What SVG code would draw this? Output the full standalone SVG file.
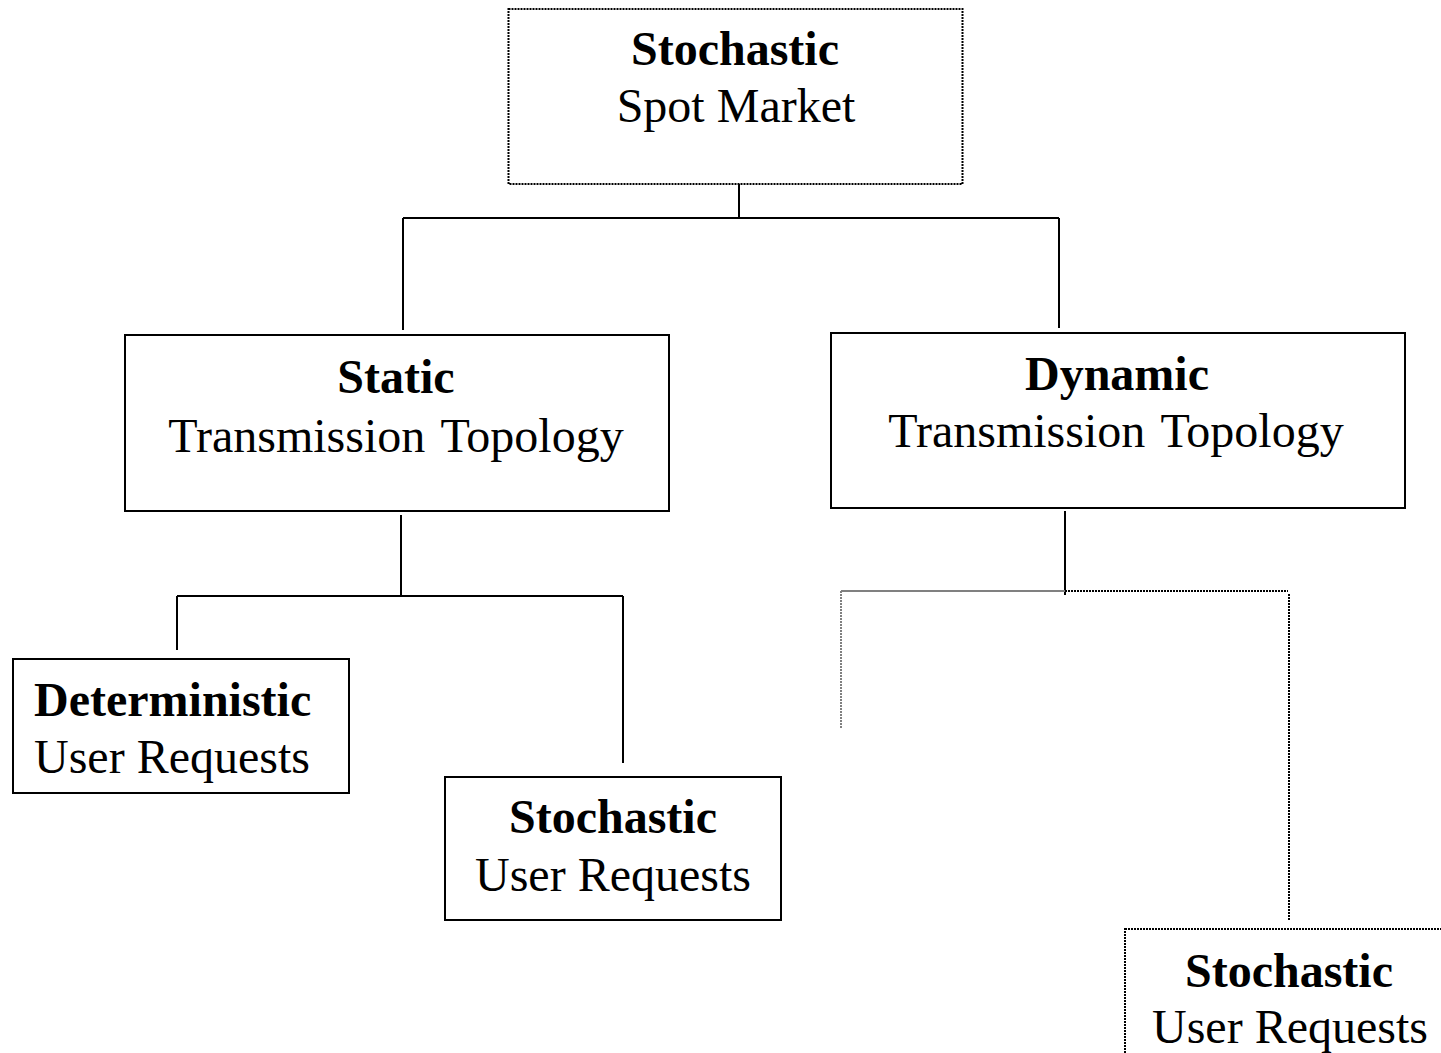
<svg xmlns="http://www.w3.org/2000/svg" width="1441" height="1053" viewBox="0 0 1441 1053">
<style>
.box{fill:#fff;stroke:#000;stroke-width:2}
.dot{fill:#fff;stroke:#000;stroke-width:2;stroke-dasharray:2 1}
.b{font-family:"Liberation Serif",serif;font-size:48px;font-weight:bold;fill:#000}
.r{font-family:"Liberation Serif",serif;font-size:48px;fill:#000}
.c{text-anchor:middle}
.ln{fill:none;stroke:#000;stroke-width:2}
.dl{fill:none;stroke:#000;stroke-width:2;stroke-dasharray:2 1}
.gl{fill:none;stroke:#808080;stroke-width:2}
.gd{fill:none;stroke:#808080;stroke-width:2;stroke-dasharray:2 1}
</style>
<rect width="1441" height="1053" fill="#fff"/>
<g id="connectors">
<path class="ln" d="M739 184V218M403 218H1059M403 218V330M1059 218V328"/>
<path class="ln" d="M401 515V597M177 596H623M177 596V650M623 596V763"/>
<path class="ln" d="M1065 511V595"/>
<path class="gl" d="M841 591H1065"/>
<path class="gd" d="M841 591V729"/>
<path class="dl" d="M1065 591H1288M1289 594V921"/>
</g>
<g id="n-spot">
<rect class="dot" x="508.5" y="9" width="454" height="175"/>
<text class="b c" x="735" y="65">Stochastic</text>
<text class="r c" x="736" y="122">Spot Market</text>
</g>
<g id="n-static">
<rect class="box" x="125" y="335" width="544" height="176"/>
<text class="b c" x="396" y="393">Static</text>
<text class="r c" x="396" y="452" word-spacing="4">Transmission Topology</text>
</g>
<g id="n-dynamic">
<rect class="box" x="831" y="333" width="574" height="175"/>
<text class="b c" x="1117" y="390">Dynamic</text>
<text class="r c" x="1116" y="447" word-spacing="4">Transmission Topology</text>
</g>
<g id="n-det">
<rect class="box" x="13" y="659" width="336" height="134"/>
<text class="b" x="34" y="716">Deterministic</text>
<text class="r" x="34" y="773">User Requests</text>
</g>
<g id="n-stoch1">
<rect class="box" x="445" y="777" width="336" height="143"/>
<text class="b c" x="613" y="833">Stochastic</text>
<text class="r c" x="613" y="891">User Requests</text>
</g>
<g id="n-stoch2">
<rect class="dot" x="1125" y="929" width="340" height="160"/>
<text class="b c" x="1289" y="987">Stochastic</text>
<text class="r c" x="1290" y="1043">User Requests</text>
</g>
</svg>
